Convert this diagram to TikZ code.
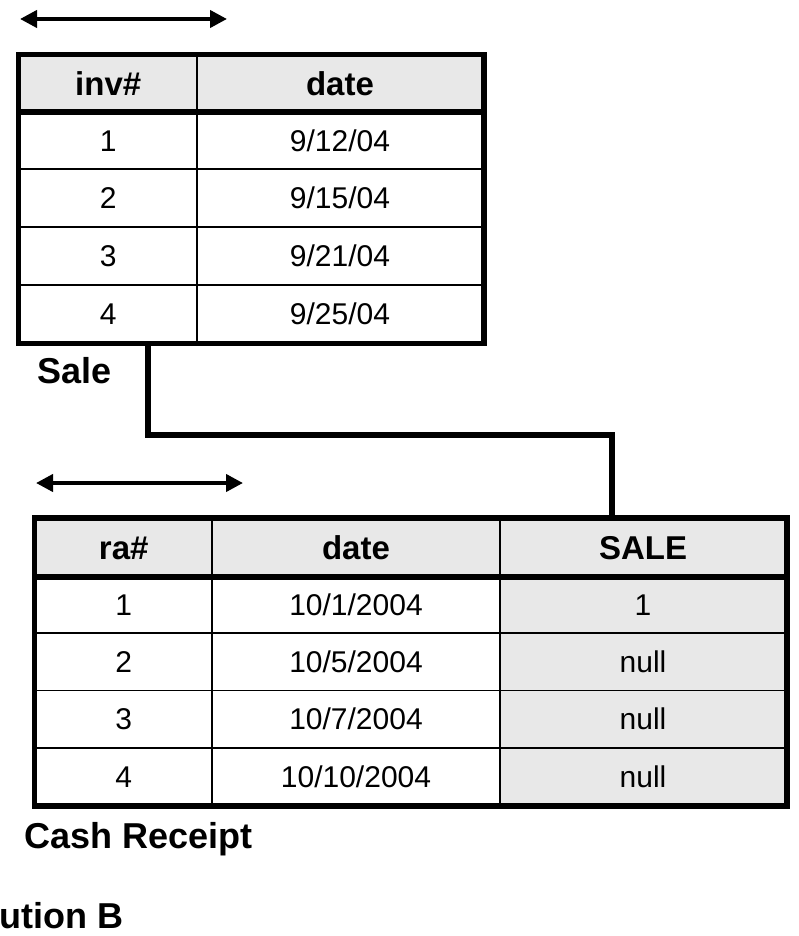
\documentclass[tikz,border=0pt]{standalone}
\usepackage{fontspec}
\setmainfont{Liberation Sans}
\usetikzlibrary{arrows.meta}
\definecolor{hdrgrey}{HTML}{E8E8E8}
\tikzset{
  cell/.style={draw=black, line width=1.6pt, inner sep=0pt, text height=21.5pt, text depth=0pt, font=\fontsize{30}{30}\selectfont},
  hdr/.style={cell, fill=hdrgrey, text height=23.6pt, font=\fontsize{33}{33}\selectfont\bfseries},
  shade/.style={fill=hdrgrey},
  border/.style={draw=black, line width=5.5pt},
  sep/.style={draw=black, line width=6pt},
  link/.style={draw=black, line width=6pt},
  span/.style={draw=black, line width=4pt, {Triangle[length=17pt,width=17pt]}-{Triangle[length=17pt,width=17pt]}},
  label/.style={anchor=base west, inner sep=0pt, font=\fontsize{36}{36}\selectfont\bfseries}
}
\begin{document}
\begin{tikzpicture}[x=1pt,y=-1pt]
\useasboundingbox (0,0) rectangle (798,936);

% ---- arrows
\coordinate (a1) at (20,19);
\coordinate (a2) at (227,19);
\draw[span] (a1) -- (a2);
\coordinate (a3) at (36,483);
\coordinate (a4) at (243,483);
\draw[span] (a3) -- (a4);

% ---- Table Sale
\node[hdr, minimum width=177.5pt, minimum height=56pt] (s00) at (108.25,83.5) {inv\#};
\node[hdr, minimum width=286pt, minimum height=56pt] (s01) at (340,83.5) {date};
\node[cell, minimum width=177.5pt, minimum height=57.75pt] (s10) at (108.25,140.4) {1};
\node[cell, minimum width=286pt, minimum height=57.75pt] (s11) at (340,140.4) {9/12/04};
\node[cell, minimum width=177.5pt, minimum height=57.75pt] (s20) at (108.25,198.1) {2};
\node[cell, minimum width=286pt, minimum height=57.75pt] (s21) at (340,198.1) {9/15/04};
\node[cell, minimum width=177.5pt, minimum height=57.75pt] (s30) at (108.25,255.9) {3};
\node[cell, minimum width=286pt, minimum height=57.75pt] (s31) at (340,255.9) {9/21/04};
\node[cell, minimum width=177.5pt, minimum height=57.75pt] (s40) at (108.25,313.6) {4};
\node[cell, minimum width=286pt, minimum height=57.75pt] (s41) at (340,313.6) {9/25/04};
\draw[sep] (s00.south west) -- (s01.south east);
\draw[border] (s00.north west) rectangle (s41.south east);
\node[label] (salelbl) at (37.5,383) {Sale};

% ---- Table Cash Receipt
\node[hdr, minimum width=176.5pt, minimum height=57pt] (c00) at (123.75,547.5) {ra\#};
\node[hdr, minimum width=288pt, minimum height=57pt] (c01) at (356,547.5) {date};
\node[hdr, minimum width=286pt, minimum height=57pt] (c02) at (643,547.5) {SALE};
\node[cell, minimum width=176.5pt, minimum height=57.25pt] (c10) at (123.75,604.6) {1};
\node[cell, minimum width=288pt, minimum height=57.25pt] (c11) at (356,604.6) {10/1/2004};
\node[cell, shade, minimum width=286pt, minimum height=57.25pt] (c12) at (643,604.6) {1};
\node[cell, minimum width=176.5pt, minimum height=57.25pt] (c20) at (123.75,661.9) {2};
\node[cell, minimum width=288pt, minimum height=57.25pt] (c21) at (356,661.9) {10/5/2004};
\node[cell, shade, minimum width=286pt, minimum height=57.25pt] (c22) at (643,661.9) {null};
\node[cell, minimum width=176.5pt, minimum height=57.25pt] (c30) at (123.75,719.1) {3};
\node[cell, minimum width=288pt, minimum height=57.25pt] (c31) at (356,719.1) {10/7/2004};
\node[cell, shade, minimum width=286pt, minimum height=57.25pt] (c32) at (643,719.1) {null};
\node[cell, minimum width=176.5pt, minimum height=57.25pt] (c40) at (123.75,776.4) {4};
\node[cell, minimum width=288pt, minimum height=57.25pt] (c41) at (356,776.4) {10/10/2004};
\node[cell, shade, minimum width=286pt, minimum height=57.25pt] (c42) at (643,776.4) {null};
\draw[sep] (c00.south west) -- (c02.south east);
\draw[border] (c00.north west) rectangle (c42.south east);
\node[label] (crlbl) at (24.5,848) {Cash Receipt};
\node[label] (sollbl) at (-1,928) {ution B};

% ---- connector
\coordinate (k1) at (s40.south -| 148,0);
\coordinate (k2) at (148,435);
\coordinate (k3) at (612,435);
\coordinate (k4) at (c02.north -| 612,0);
\draw[link] (k1) -- (k2) -- (k3) -- (k4);
\end{tikzpicture}
\end{document}
